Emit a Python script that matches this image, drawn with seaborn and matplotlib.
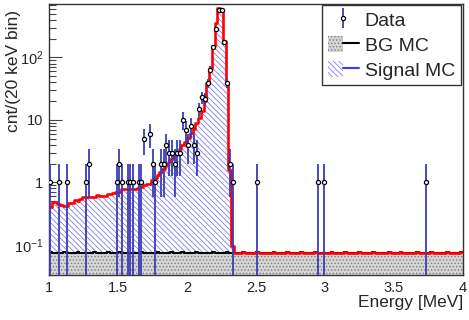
"""
    Energy spectrum: data points over stacked background and signal MC (log scale).
"""
import numpy as np
import pandas as pd
import matplotlib
matplotlib.use("Agg")
import matplotlib.pyplot as plt
import seaborn as sns
from matplotlib.patches import Patch
from matplotlib.lines import Line2D
from matplotlib.legend_handler import HandlerTuple

# 20 keV bins from 1 to 4 MeV
e_min, e_max, bin_w = 1.0, 4.0, 0.02

# measured counts (bin centre energy in MeV, counts)
data_energy = [1.01, 1.07, 1.13, 1.27, 1.29, 1.49, 1.51, 1.53, 1.57, 1.59, 1.61, 1.65,
               1.67, 1.69, 1.73, 1.75, 1.77, 1.81, 1.83, 1.85, 1.87, 1.89, 1.91, 1.93,
               1.95, 1.97, 1.99, 2.01, 2.03, 2.05, 2.07, 2.09, 2.11, 2.13, 2.15, 2.17,
               2.19, 2.21, 2.23, 2.25, 2.27, 2.29, 2.31, 2.33, 2.51, 2.95, 2.99, 3.73]
data_counts = [1, 1, 1, 1, 2, 1, 2, 1, 1, 1, 1, 1,
               1, 5, 6, 2, 1, 2, 2, 4, 3, 3, 2, 3,
               3, 10, 7, 4, 8, 4, 3, 15, 23, 22, 39, 64,
               147, 290, 573, 573, 177, 39, 2, 1, 1, 1, 1, 1]

# signal MC per bin, starting at 1.00 MeV (zero above 2.34 MeV)
signal_mc = [0.325, 0.405, 0.405, 0.38, 0.355, 0.335, 0.335, 0.385, 0.385, 0.445,
             0.425, 0.465, 0.505, 0.505, 0.505, 0.505, 0.505, 0.545, 0.525, 0.525,
             0.525, 0.565, 0.565, 0.595, 0.625, 0.625, 0.715, 0.715, 0.705, 0.715,
             0.695, 0.695, 0.745, 0.765, 0.815, 0.855, 0.855, 1.02, 1.11, 1.22,
             1.39, 1.54, 1.80, 2.05, 2.32, 2.65, 3.0, 3.29, 3.87, 4.3,
             4.98, 6.0, 7.0, 8.7, 10.5, 14.0, 20.0, 39.0, 69.0, 151.0,
             362.0, 630.0, 560.0, 183.0, 41.0, 1.5, 0.02]

# background MC per bin, 1.00 - 4.00 MeV
bg_mc = [0.076, 0.075, 0.075, 0.074, 0.075, 0.076, 0.075, 0.075, 0.074, 0.075, 0.076, 0.075, 0.074, 0.075, 0.075,
         0.075, 0.076, 0.075, 0.074, 0.075, 0.075, 0.076, 0.074, 0.075, 0.075, 0.076, 0.075, 0.075, 0.074, 0.075,
         0.075, 0.073, 0.075, 0.076, 0.075, 0.075, 0.074, 0.075, 0.075, 0.076, 0.075, 0.074, 0.075, 0.075, 0.076,
         0.075, 0.074, 0.075, 0.076, 0.075, 0.075, 0.074, 0.075, 0.076, 0.075, 0.075, 0.074, 0.075, 0.075, 0.076,
         0.075, 0.075, 0.074, 0.075, 0.076, 0.075, 0.075, 0.074, 0.075, 0.075, 0.076, 0.075, 0.074, 0.075, 0.075,
         0.076, 0.075, 0.075, 0.074, 0.075, 0.075, 0.076, 0.075, 0.074, 0.075, 0.075, 0.076, 0.075, 0.075, 0.074,
         0.075, 0.076, 0.075, 0.075, 0.074, 0.075, 0.076, 0.075, 0.075, 0.074, 0.075, 0.075, 0.076, 0.075, 0.074,
         0.075, 0.075, 0.076, 0.075, 0.074, 0.075, 0.075, 0.076, 0.075, 0.075, 0.074, 0.075, 0.076, 0.075, 0.075,
         0.074, 0.075, 0.075, 0.076, 0.075, 0.074, 0.075, 0.076, 0.075, 0.075, 0.074, 0.075, 0.075, 0.076, 0.075,
         0.075, 0.074, 0.075, 0.076, 0.075, 0.075, 0.074, 0.075, 0.075, 0.076, 0.075, 0.074, 0.075, 0.075, 0.076]

y_ticks = [0.1, 1, 10, 100]
y_ticklabels = [r'$10^{-1}$', '1', '10', r'$10^{2}$']
x_ticks = [1, 1.5, 2, 2.5, 3, 3.5, 4]
x_ticklabels = ['1', '1.5', '2', '2.5', '3', '3.5', '4']

edges = list(np.linspace(e_min, e_max, int(round((e_max - e_min) / bin_w)) + 1))
centers = np.array(edges[:-1]) + bin_w / 2

bg_df = pd.DataFrame({'energy': centers, 'w': bg_mc})
sig_df = pd.DataFrame({'energy': centers[:len(signal_mc)], 'w': signal_mc})
tot_df = pd.concat([sig_df, bg_df], ignore_index=True)

sns.set_theme(style="ticks")
plt.rcParams['font.family'] = ['Liberation Sans', 'DejaVu Sans']
plt.rcParams['mathtext.fontset'] = 'custom'
plt.rcParams['mathtext.rm'] = 'Liberation Sans'
plt.rcParams['mathtext.it'] = 'Liberation Sans:italic'
plt.rcParams['hatch.linewidth'] = 0.55

hatch_sig = '\\\\\\\\\\\\'
sig_hatch_col = '#7474ee'

fig = plt.figure(figsize=(4.69, 3.2), dpi=100)
ax = fig.add_axes([49 / 469, 1 - 275 / 320, 414 / 469, 271.5 / 320])

# stacked total (signal on top of background), hatched
sns.histplot(data=tot_df, x='energy', weights='w', bins=edges, element="step", fill=True,
             alpha=1, facecolor='white', edgecolor=sig_hatch_col, linewidth=0, hatch=hatch_sig,
             ax=ax, zorder=1)
# background, dotted grey
sns.histplot(data=bg_df, x='energy', weights='w', bins=edges, element="step", fill=True,
             alpha=1, facecolor='#d4d4d4', edgecolor='#7a7a7a', linewidth=0, hatch='.....',
             ax=ax, zorder=2)
sns.histplot(data=bg_df, x='energy', weights='w', bins=edges, element="step", fill=False,
             color='black', linewidth=1.5, ax=ax, zorder=3)
sns.histplot(data=tot_df, x='energy', weights='w', bins=edges, element="step", fill=False,
             color='#ff0000', linewidth=1.9, ax=ax, zorder=4)

counts = np.array(data_counts, dtype=float)
data_h = ax.errorbar(data_energy, counts, yerr=np.sqrt(counts), fmt='o', ms=3.0,
                     mfc='white', mec='black', mew=0.9, ecolor='#3c3cb8', elinewidth=1.3,
                     capsize=0, zorder=5)

ax.set_yscale('log')
ax.set_xlim(e_min, e_max)
ax.set_ylim(0.0327, 733)
ax.set_xticks(x_ticks)
ax.set_xticklabels(x_ticklabels)
ax.set_xticks(np.arange(1.1, 4.0, 0.1), minor=True)
ax.set_yticks(y_ticks)
ax.set_yticklabels(y_ticklabels)
ax.tick_params(axis='both', which='major', direction='in', labelsize=10.5, length=9,
               width=0.8, color='#444444', pad=4)
ax.tick_params(axis='both', which='minor', direction='in', length=5, width=0.8, color='#444444')
ax.tick_params(axis='x', which='major', length=8)
ax.tick_params(axis='x', which='minor', length=4)
for s in ax.spines.values():
    s.set_linewidth(1.0)
    s.set_color('#333333')

ax.set_xlabel('Energy [MeV]', fontsize=12.5, loc='right')
ax.xaxis.set_label_coords(1.0, -0.072)
ax.set_ylabel('cnt/(20 keV bin)', fontsize=12.5, loc='top')
ax.yaxis.set_label_coords(-0.068, 0.975)

bg_handle = (Patch(facecolor='#d4d4d4', edgecolor='#7a7a7a', hatch='.....', linewidth=0),
             Line2D([], [], color='black', linewidth=1.5))
sig_handle = (Patch(facecolor='white', edgecolor=sig_hatch_col, hatch=hatch_sig, linewidth=0),
              Line2D([], [], color='#3a3aff', linewidth=1.5))
leg = ax.legend([data_h, bg_handle, sig_handle], ['Data', 'BG MC', 'Signal MC'],
                handler_map={tuple: HandlerTuple(ndivide=None, pad=0)},
                loc='upper right', bbox_to_anchor=(0.9945, 0.9945), borderaxespad=0,
                fontsize=14, frameon=True, fancybox=False, framealpha=1,
                edgecolor='#333333', borderpad=0.3, labelspacing=0.32,
                handlelength=1.6, handletextpad=0.3, handleheight=0.9)
leg.get_frame().set_linewidth(1.0)
leg.set_zorder(10)

fig.savefig('out.png', dpi=100)
